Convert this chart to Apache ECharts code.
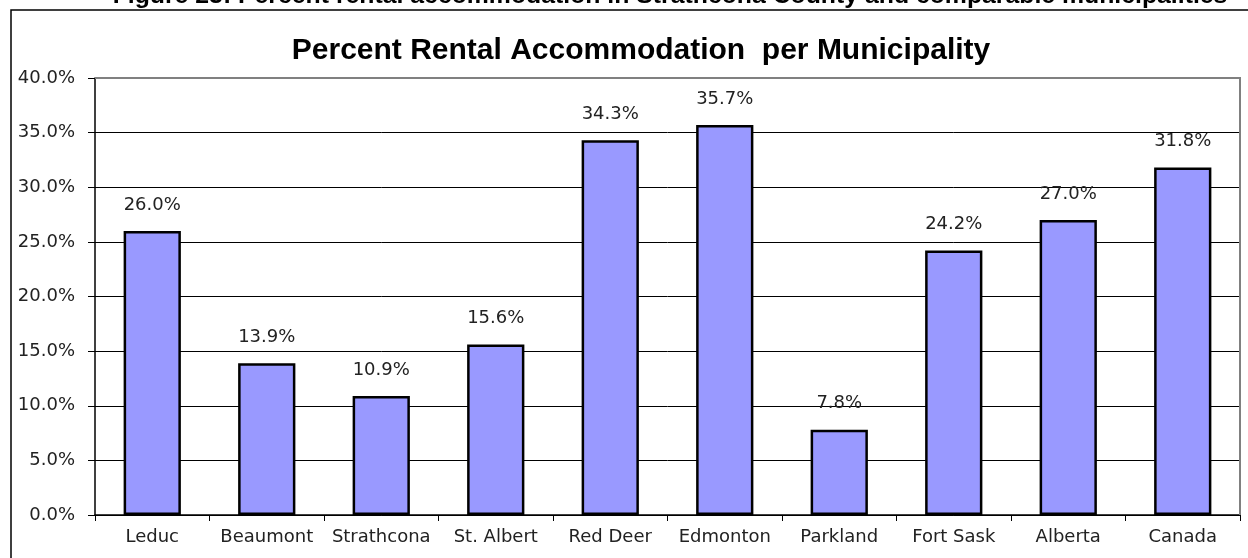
<!DOCTYPE html>
<html>
<head>
<meta charset="utf-8">
<title>Percent Rental Accommodation per Municipality</title>
<script src="https://cdn.jsdelivr.net/npm/echarts@6/dist/echarts.min.js"></script>
<style>
    html, body { margin: 0; padding: 0; background: #fff; }
    #chart { width: 1248px; height: 558px; }
</style>
</head>
<body>
<div id="chart"></div>
<script>
// municipalities and their share of rental housing (%)
var municipalities = ['Leduc', 'Beaumont', 'Strathcona', 'St. Albert', 'Red Deer', 'Edmonton', 'Parkland', 'Fort Sask', 'Alberta', 'Canada'];
var rentalPercent = [26.0, 13.9, 10.9, 15.6, 34.3, 35.7, 7.8, 24.2, 27.0, 31.8];
var yTicks = [0, 5, 10, 15, 20, 25, 30, 35, 40];

var chartTitle = 'Percent Rental Accommodation  per Municipality';
var figureCaption = 'Figure 23: Percent rental accommodation in Strathcona County and comparable municipalities';

// the axis and value labels look wide in the picture, DejaVu fits best
var labelFont = 'DejaVu Sans, Liberation Sans';

function drawChart() {
    var myChart = echarts.init(document.getElementById('chart'));
    var option = {
        backgroundColor: '#fff',
        animation: false,
        title: {
            text: chartTitle,
            left: 636,
            top: 31,
            textAlign: 'center',
            textStyle: {
                fontFamily: 'Liberation Sans, Arial',
                fontWeight: 'bold',
                fontSize: 30,
                color: '#000'
            }
        },
        graphic: [
            {
                // outer frame of the chart object
                type: 'rect',
                shape: { x: 11, y: 10, width: 1260, height: 580 },
                style: { fill: null, stroke: '#000', lineWidth: 1.5 },
                z: 0
            },
            {
                // caption of the report, cut at the top edge
                type: 'text',
                style: {
                    x: 670,
                    y: 9,
                    text: figureCaption,
                    align: 'center',
                    verticalAlign: 'bottom',
                    fontFamily: 'Liberation Sans, Arial',
                    fontWeight: 'bold',
                    fontSize: 24.8,
                    fill: '#000'
                }
            },
            {
                // plot area border (top and right in gray)
                type: 'polyline',
                shape: { points: [[95, 78], [1240, 78], [1240, 515]] },
                style: { fill: null, stroke: '#808080', lineWidth: 2 },
                z: 5
            }
        ],
        grid: {
            left: 95,
            right: 8,
            top: 78,
            bottom: 43,
            containLabel: false
        },
        xAxis: {
            type: 'category',
            data: municipalities,
            axisLine: { lineStyle: { color: '#000', width: 1.5 } },
            axisTick: { show: true, interval: 0, length: 6, alignWithLabel: false, lineStyle: { color: '#000' } },
            axisLabel: {
                interval: 0,
                hideOverlap: false,
                color: '#222',
                fontFamily: labelFont,
                fontSize: 18,
                margin: 13
            }
        },
        yAxis: {
            type: 'value',
            min: yTicks[0],
            max: yTicks[yTicks.length - 1],
            interval: yTicks[1] - yTicks[0],
            axisLine: { show: true, lineStyle: { color: '#000', width: 1.5 } },
            axisTick: { show: true, length: 7, inside: false, lineStyle: { color: '#000' } },
            axisLabel: {
                color: '#222',
                fontFamily: labelFont,
                fontSize: 18,
                margin: 20,
                formatter: function (v) {
                    return v.toFixed(1) + '%';
                }
            },
            splitLine: { show: true, lineStyle: { color: '#000', width: 1 } }
        },
        series: [
            {
                name: 'Rental',
                type: 'bar',
                data: rentalPercent,
                barWidth: '50%',
                itemStyle: {
                    color: '#9999FF',
                    borderColor: '#000',
                    borderWidth: 2.5
                },
                label: {
                    show: true,
                    position: 'top',
                    distance: 17,
                    color: '#222',
                    fontFamily: labelFont,
                    fontSize: 18,
                    formatter: function (p) {
                        return p.value.toFixed(1) + '%';
                    }
                },
                z: 3
            }
        ]
    };
    myChart.setOption(option);
}

drawChart();
</script>
</body>
</html>
